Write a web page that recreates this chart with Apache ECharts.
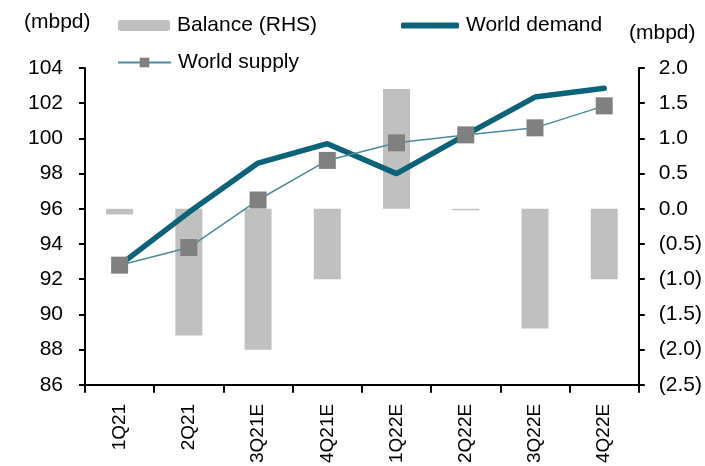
<!DOCTYPE html>
<html>
<head>
<meta charset="utf-8">
<script src="https://cdn.jsdelivr.net/npm/echarts@6/dist/echarts.min.js"></script>
<style>
  html, body { margin: 0; padding: 0; background: #fff; }
  #chart { width: 705px; height: 466px; }
</style>
</head>
<body>
<div id="chart"></div>
<script>
// quarters on the x axis
const quarters = ["1Q21", "2Q21", "3Q21E", "4Q21E", "1Q22E", "2Q22E", "3Q22E", "4Q22E"];
// mbpd, left axis
const worldDemand = [92.8, 95.8, 98.6, 99.7, 98.0, 100.2, 102.35, 102.85];
const worldSupply = [92.8, 93.8, 96.5, 98.75, 99.75, 100.2, 100.6, 101.85];
// mbpd, right axis
const balance = [-0.08, -1.8, -2.0, -1.0, 1.7, -0.02, -1.7, -1.0];

const font = "'Liberation Sans', Arial, sans-serif";
const axisBlack = { lineStyle: { color: "#000", width: 2 } };
const legendText = { fontSize: 21, color: "#000", fontFamily: font, padding: [0, 0, 0, 2] };
const demandColor = "#0b6379";

const myChart = echarts.init(document.getElementById("chart"));

const option = {
  animation: false,
  backgroundColor: "#fff",
  textStyle: { fontFamily: font, color: "#000" },
  grid: { left: 85, right: 66, top: 68, bottom: 79 },
  legend: [
    {
      data: ["Balance (RHS)"],
      left: 118,
      top: 15,
      padding: 0,
      itemWidth: 52,
      itemHeight: 11,
      textStyle: legendText
    },
    {
      data: [{ name: "World demand", icon: "roundRect", itemStyle: { color: demandColor } }],
      left: 401,
      top: 15,
      padding: 0,
      itemWidth: 58,
      itemHeight: 6,
      textStyle: legendText
    },
    {
      data: ["World supply"],
      left: 117,
      top: 52,
      padding: 0,
      itemWidth: 53,
      itemHeight: 12,
      textStyle: legendText
    }
  ],
  graphic: [
    {
      type: "text",
      left: 24,
      top: 12,
      style: { text: "(mbpd)", fontSize: 21, fontFamily: font, fill: "#000" }
    },
    {
      type: "text",
      left: 629,
      top: 23,
      style: { text: "(mbpd)", fontSize: 21, fontFamily: font, fill: "#000" }
    }
  ],
  xAxis: {
    type: "category",
    data: quarters,
    boundaryGap: true,
    axisLine: { onZero: false, ...axisBlack },
    axisTick: { show: true, length: 8, lineStyle: { color: "#000", width: 2 } },
    axisLabel: { rotate: 90, margin: 19, fontSize: 19, color: "#000", fontFamily: font },
    splitLine: { show: false }
  },
  yAxis: [
    {
      type: "value",
      min: 86,
      max: 104,
      interval: 2,
      axisLine: { show: true, ...axisBlack },
      axisTick: { show: true, length: 6, lineStyle: { color: "#000", width: 2 } },
      axisLabel: { margin: 22, fontSize: 21, color: "#000", fontFamily: font },
      splitLine: { show: false }
    },
    {
      type: "value",
      position: "right",
      min: -2.5,
      max: 2,
      interval: 0.5,
      axisLine: { show: true, ...axisBlack },
      axisTick: { show: true, length: 6, lineStyle: { color: "#000", width: 2 } },
      axisLabel: {
        margin: 20,
        fontSize: 21,
        color: "#000",
        fontFamily: font,
        formatter: v => (v < 0 ? "(" + Math.abs(v).toFixed(1) + ")" : v.toFixed(1))
      },
      splitLine: { show: false }
    }
  ],
  series: [
    {
      name: "Balance (RHS)",
      type: "bar",
      yAxisIndex: 1,
      barWidth: 27,
      itemStyle: { color: "#c0c0c0" },
      data: balance,
      z: 1
    },
    {
      name: "World demand",
      type: "line",
      yAxisIndex: 0,
      symbol: "none",
      lineStyle: { color: demandColor, width: 5.5, cap: "round" },
      itemStyle: { color: demandColor },
      data: worldDemand,
      z: 2
    },
    {
      name: "World supply",
      type: "line",
      yAxisIndex: 0,
      symbol: "rect",
      symbolSize: 17,
      lineStyle: { color: "#4a8b9b", width: 1.5 },
      itemStyle: { color: "#808080" },
      data: worldSupply,
      z: 3
    }
  ]
};

myChart.setOption(option);
</script>
</body>
</html>
